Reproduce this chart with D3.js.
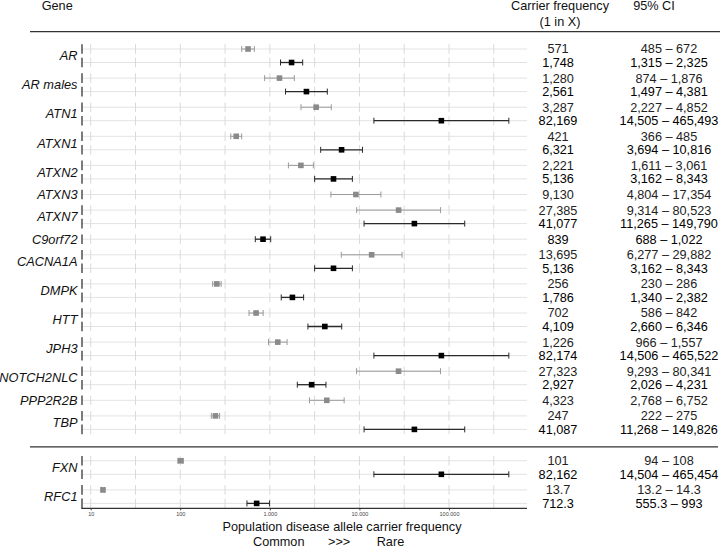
<!DOCTYPE html>
<html>
<head>
<meta charset="utf-8">
<script src="https://cdn.jsdelivr.net/npm/d3@7"></script>
<style>
  body { margin: 0; background: #fff; }
  svg { display: block; font-family: "Liberation Sans", Arial, sans-serif; }
</style>
</head>
<body>
<div id="chart"></div>
<script>
// genes, in display order (top block, then bottom block below the rule)
const topGenes = ["AR", "AR males", "ATN1", "ATXN1", "ATXN2", "ATXN3", "ATXN7", "C9orf72",
  "CACNA1A", "DMPK", "HTT", "JPH3", "NOTCH2NLC", "PPP2R2B", "TBP"]
const bottomGenes = ["FXN", "RFC1"]

// one entry per row
const rowGene = ["AR", "AR", "AR males", "AR males", "ATN1", "ATN1", "ATXN1", "ATXN1", "ATXN2", "ATXN2",
  "ATXN3", "ATXN7", "ATXN7", "C9orf72", "CACNA1A", "CACNA1A", "DMPK", "DMPK", "HTT", "HTT",
  "JPH3", "JPH3", "NOTCH2NLC", "NOTCH2NLC", "PPP2R2B", "TBP", "TBP", "FXN", "FXN", "RFC1", "RFC1"]
const rowSeries = ["grey", "black", "grey", "black", "grey", "black", "grey", "black", "grey", "black",
  "grey", "grey", "black", "black", "grey", "black", "grey", "black", "grey", "black",
  "grey", "black", "grey", "black", "grey", "grey", "black", "grey", "black", "grey", "black"]
const freq = [571, 1748, 1280, 2561, 3287, 82169, 421, 6321, 2221, 5136,
  9130, 27385, 41077, 839, 13695, 5136, 256, 1786, 702, 4109,
  1226, 82174, 27323, 2927, 4323, 247, 41087, 101, 82162, 13.7, 712.3]
const ciLow = [485, 1315, 874, 1497, 2227, 14505, 366, 3694, 1611, 3162,
  4804, 9314, 11265, 688, 6277, 3162, 230, 1340, 586, 2660,
  966, 14506, 9293, 2026, 2768, 222, 11268, 94, 14504, 13.2, 555.3]
const ciHigh = [672, 2325, 1876, 4381, 4852, 465493, 485, 10816, 3061, 8343,
  17354, 80523, 149790, 1022, 29882, 8343, 286, 2382, 842, 6346,
  1557, 465522, 80341, 4231, 6752, 275, 149826, 108, 465454, 14.3, 993]

const xTicks = [10, 100, 1000, 10000, 100000]

const width = 720, height = 548
const panelLeft = 82, panelRight = 527
const fontSize = 12.7

const svg = d3.select("#chart").append("svg")
  .attr("width", width)
  .attr("height", height)

const x = d3.scaleLog().domain([10, 100000]).range([90.7, 449])
const tickFmt = d3.formatLocale({decimal: ",", thousands: ".", grouping: [3], currency: ["", ""]}).format(",")
const numFmt = v => Number.isInteger(v) ? d3.format(",")(v) : String(v)

// row positions: small step inside a gene, bigger between genes, big jump to second block
const rows = []
let y = 49
rowGene.forEach((g, i) => {
  if (i > 0) {
    if (g === rowGene[i - 1]) y += 13.5
    else if (bottomGenes.includes(g) && !bottomGenes.includes(rowGene[i - 1])) y += 31.4
    else y += 15.6
  }
  rows.push({gene: g, series: rowSeries[i], freq: freq[i], lo: ciLow[i], hi: ciHigh[i], y: y})
})
const half = 4.8

const firstBottom = rows.find(r => bottomGenes.includes(r.gene))
const lastTop = rows[rows.indexOf(firstBottom) - 1]
const sepY = (lastTop.y + firstBottom.y) / 2 + 1.7
const axisY = rows[rows.length - 1].y + 5

// header
svg.append("text").attr("x", 41.7).attr("y", 10).attr("font-size", fontSize).attr("fill", "#111").text("Gene")
svg.append("text").attr("x", 560).attr("y", 10).attr("text-anchor", "middle").attr("font-size", fontSize).attr("fill", "#111").text("Carrier frequency")
svg.append("text").attr("x", 560).attr("y", 26).attr("text-anchor", "middle").attr("font-size", fontSize).attr("fill", "#111").text("(1 in X)")
svg.append("text").attr("x", 654).attr("y", 10).attr("text-anchor", "middle").attr("font-size", fontSize).attr("fill", "#111").text("95% CI")

svg.append("line").attr("x1", 30).attr("x2", 720).attr("y1", 31.7).attr("y2", 31.7)
  .attr("stroke", "#333").attr("stroke-width", 1.2)
svg.append("line").attr("x1", 30).attr("x2", 718).attr("y1", sepY).attr("y2", sepY)
  .attr("stroke", "#333").attr("stroke-width", 1.2)

// horizontal grid per row
svg.append("g").selectAll("line").data(rows).join("line")
  .attr("x1", panelLeft).attr("x2", panelRight)
  .attr("y1", d => d.y).attr("y2", d => d.y)
  .attr("stroke", "#e3e3e3").attr("stroke-width", 1)

// vertical grid, drawn per row strip (half decades)
const gridVals = d3.range(1, 6, 0.5).map(e => Math.pow(10, e))
const vg = svg.append("g")
rows.forEach(r => {
  vg.selectAll(null).data(gridVals).join("line")
    .attr("x1", d => x(d)).attr("x2", d => x(d))
    .attr("y1", r.y - half).attr("y2", r.y + half)
    .attr("stroke", "#dadada").attr("stroke-width", 1)
})

// left axis segments per row
svg.append("g").selectAll("line").data(rows).join("line")
  .attr("x1", panelLeft).attr("x2", panelLeft)
  .attr("y1", d => d.y - half).attr("y2", d => d.y + half)
  .attr("stroke", "#444").attr("stroke-width", 1.4)

// bottom axis
const xAxis = svg.append("g").attr("transform", `translate(0,${axisY})`)
  .call(d3.axisBottom(x).tickValues(xTicks).tickFormat(tickFmt).tickSize(2).tickPadding(1.5))
xAxis.select(".domain").remove()
xAxis.selectAll(".tick line").attr("stroke", "#444")
xAxis.selectAll(".tick text").attr("font-size", 5.5).attr("fill", "#444")
  .attr("font-family", "Liberation Sans, Arial, sans-serif")
svg.append("line").attr("x1", panelLeft - 0.7).attr("x2", panelRight).attr("y1", axisY).attr("y2", axisY)
  .attr("stroke", "#333").attr("stroke-width", 1.2)

// error bars
const colors = {grey: {bar: "#9a9a9a", pt: "#8a8a8a", txt: "#222"}, black: {bar: "#2a2a2a", pt: "#000", txt: "#000"}}
const eb = svg.append("g")
eb.selectAll("line.ci").data(rows).join("line").attr("class", "ci")
  .attr("x1", d => x(d.lo)).attr("x2", d => x(d.hi))
  .attr("y1", d => d.y).attr("y2", d => d.y)
  .attr("stroke", d => colors[d.series].bar)
  .attr("stroke-width", d => d.series === "black" ? 1.3 : 1)
eb.selectAll("line.capl").data(rows).join("line").attr("class", "capl")
  .attr("x1", d => x(d.lo)).attr("x2", d => x(d.lo))
  .attr("y1", d => d.y - 3).attr("y2", d => d.y + 3)
  .attr("stroke", d => colors[d.series].bar).attr("stroke-width", 1)
eb.selectAll("line.caph").data(rows).join("line").attr("class", "caph")
  .attr("x1", d => x(d.hi)).attr("x2", d => x(d.hi))
  .attr("y1", d => d.y - 3).attr("y2", d => d.y + 3)
  .attr("stroke", d => colors[d.series].bar).attr("stroke-width", 1)

const sq = 5.6
eb.selectAll("rect").data(rows).join("rect")
  .attr("x", d => x(d.freq) - sq / 2).attr("y", d => d.y - sq / 2)
  .attr("width", sq).attr("height", sq)
  .attr("fill", d => colors[d.series].pt)

// gene labels
const allGenes = topGenes.concat(bottomGenes)
svg.append("g").selectAll("text").data(allGenes).join("text")
  .attr("x", 77.5)
  .attr("y", g => d3.mean(rows.filter(r => r.gene === g), r => r.y))
  .attr("dy", "0.35em")
  .attr("text-anchor", "end")
  .attr("font-style", "italic")
  .attr("font-size", 12.8)
  .attr("fill", "#111")
  .text(g => g)

// table columns
const tbl = svg.append("g").attr("font-size", fontSize)
tbl.selectAll("text.fq").data(rows).join("text").attr("class", "fq")
  .attr("x", 558).attr("y", d => d.y).attr("dy", "0.35em")
  .attr("text-anchor", "middle")
  .attr("fill", d => colors[d.series].txt)
  .text(d => numFmt(d.freq))
tbl.selectAll("text.ci").data(rows).join("text").attr("class", "ci")
  .attr("x", 669).attr("y", d => d.y).attr("dy", "0.35em")
  .attr("text-anchor", "middle")
  .attr("fill", d => colors[d.series].txt)
  .text(d => numFmt(d.lo) + " \u2013 " + numFmt(d.hi))

// axis title
svg.append("text").attr("x", 342).attr("y", 531).attr("text-anchor", "middle")
  .attr("font-size", fontSize).attr("fill", "#111")
  .text("Population disease allele carrier frequency")
svg.append("text").attr("x", 253).attr("y", 546).attr("font-size", fontSize).attr("fill", "#111").text("Common")
svg.append("text").attr("x", 328).attr("y", 546).attr("font-size", fontSize).attr("fill", "#111").text(">>>")
svg.append("text").attr("x", 376.7).attr("y", 546).attr("font-size", fontSize).attr("fill", "#111").text("Rare")
</script>
</body>
</html>
